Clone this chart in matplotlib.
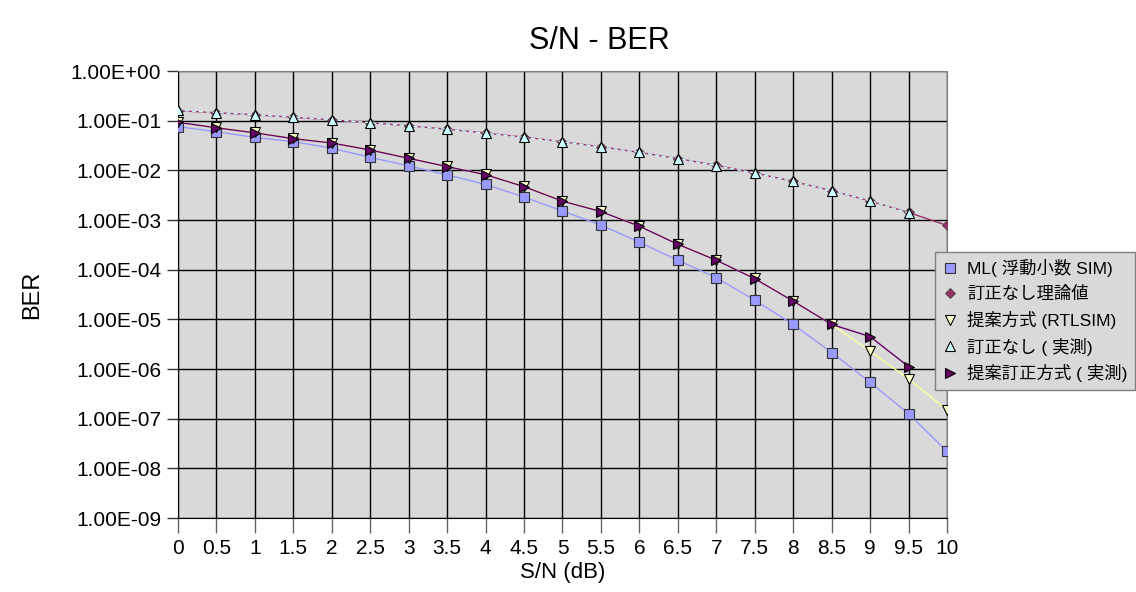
import matplotlib
matplotlib.use("Agg")
import matplotlib.pyplot as plt
from matplotlib.ticker import FixedLocator, NullLocator

plt.rcParams['font.family'] = ['Liberation Sans', 'Noto Sans CJK JP', 'DejaVu Sans']

# S/N (dB)
snr = [0, 0.5, 1, 1.5, 2, 2.5, 3, 3.5, 4, 4.5, 5, 5.5, 6, 6.5, 7, 7.5, 8, 8.5, 9, 9.5, 10]

ber_ml = [7.6e-2, 6.0e-2, 4.6e-2, 3.8e-2, 2.8e-2, 1.83e-2, 1.23e-2, 8.1e-3, 5.2e-3, 2.9e-3,
          1.52e-3, 7.9e-4, 3.57e-4, 1.55e-4, 6.9e-5, 2.44e-5, 7.9e-6, 2.15e-6, 5.4e-7, 1.26e-7, 2.2e-8]
ber_theory = [1.587e-1, 1.448e-1, 1.309e-1, 1.172e-1, 1.040e-1, 9.11e-2, 7.89e-2, 6.73e-2, 5.65e-2,
              4.66e-2, 3.77e-2, 2.98e-2, 2.30e-2, 1.73e-2, 1.26e-2, 8.86e-3, 6.00e-3, 3.90e-3,
              2.42e-3, 1.42e-3, 7.8e-4]
ber_rtl = [9.4e-2, 7.3e-2, 5.8e-2, 4.4e-2, 3.6e-2, 2.6e-2, 1.77e-2, 1.2e-2, 8.3e-3, 4.8e-3,
           2.45e-3, 1.5e-3, 7.6e-4, 3.3e-4, 1.57e-4, 6.7e-5, 2.35e-5, 7.9e-6, 2.3e-6, 6.3e-7, 1.5e-7]
ber_uncoded = [1.62e-1, 1.46e-1, 1.31e-1, 1.18e-1, 1.05e-1, 9.1e-2, 7.9e-2, 6.7e-2, 5.6e-2, 4.6e-2,
               3.75e-2, 2.97e-2, 2.3e-2, 1.72e-2, 1.25e-2, 8.8e-3, 6.0e-3, 3.9e-3, 2.45e-3, 1.39e-3]
ber_prop = [9.3e-2, 7.2e-2, 5.7e-2, 4.35e-2, 3.56e-2, 2.57e-2, 1.75e-2, 1.19e-2, 8.2e-3, 4.7e-3,
            2.4e-3, 1.48e-3, 7.5e-4, 3.25e-4, 1.55e-4, 6.6e-5, 2.33e-5, 7.9e-6, 4.5e-6, 1.12e-6]

labels = ["ML( 浮動小数 SIM)", "訂正なし理論値", "提案方式 (RTLSIM)", "訂正なし ( 実測)", "提案訂正方式 ( 実測)"]
ytick_vals = [1e0, 1e-1, 1e-2, 1e-3, 1e-4, 1e-5, 1e-6, 1e-7, 1e-8, 1e-9]
ytick_labels = ["1.00E+00", "1.00E-01", "1.00E-02", "1.00E-03", "1.00E-04",
                "1.00E-05", "1.00E-06", "1.00E-07", "1.00E-08", "1.00E-09"]
xtick_labels = ["0", "0.5", "1", "1.5", "2", "2.5", "3", "3.5", "4", "4.5", "5",
                "5.5", "6", "6.5", "7", "7.5", "8", "8.5", "9", "9.5", "10"]

fig = plt.figure(figsize=(11.36, 5.92), dpi=100)
ax = fig.add_axes([0.1567, 0.125, 0.6769, 0.755])
ax.set_facecolor('#D9D9D9')

ms = 6.5
ax.plot(snr, ber_ml, color='#9999FF', lw=1, marker='s', ms=ms, mfc='#9999FF', mec='#333333', mew=0.8,
        label=labels[0], zorder=3)
ax.plot(snr, ber_theory, color='#993366', lw=1, marker='D', ms=5, mfc='#993366', mec='#444444', mew=0.6,
        label=labels[1], zorder=3)
ax.plot(snr, ber_rtl, color='#FFFF99', lw=1, marker='v', ms=ms + 0.5, mfc='#FFFFCC', mec='#000000', mew=0.8,
        label=labels[2], zorder=3)
ax.plot(snr[:len(ber_uncoded)], ber_uncoded, color='#CCFFFF', lw=1, ls=(0, (3, 2)), marker='^', ms=ms + 0.5,
        mfc='#CCFFFF', mec='#000000', mew=0.8, label=labels[3], zorder=3)
ax.plot(snr[:len(ber_prop)], ber_prop, color='#660066', lw=1, marker='>', ms=ms + 0.5, mfc='#660066',
        mec='#000000', mew=0.8, label=labels[4], zorder=3)

ax.set_yscale('log')
ax.set_ylim(1e-9, 1e0)
ax.set_xlim(0, 10)
ax.yaxis.set_major_locator(FixedLocator(ytick_vals))
ax.yaxis.set_minor_locator(NullLocator())
ax.set_yticklabels(ytick_labels)
ax.set_xticks(snr)
ax.set_xticklabels(xtick_labels)
ax.tick_params(axis='y', labelsize=15, length=8, width=1, color='#333333', pad=4)
ax.tick_params(axis='x', labelsize=15, length=11, width=1, color='#666666', pad=4)
ax.grid(True, color='black', lw=1, zorder=1)
ax.set_axisbelow(True)
for s in ax.spines.values():
    s.set_color('#808080')
ax.spines['left'].set_color('black')
ax.spines['bottom'].set_color('black')

ax.set_xlabel("S/N (dB)", fontsize=16, labelpad=3)
ax.set_ylabel("BER", fontsize=17, labelpad=20)
fig.text(0.528, 0.93, "S/N - BER", ha='center', va='center', fontsize=22)

leg = fig.legend(loc='upper left', bbox_to_anchor=(0.823, 0.575), fontsize=12.5, frameon=True,
                 fancybox=False, edgecolor='#808080', facecolor='#D9D9D9', framealpha=1,
                 handlelength=0.8, handletextpad=0.6, borderpad=0.45, labelspacing=0.5,
                 borderaxespad=0)
leg.get_frame().set_linewidth(1)
for h in leg.legend_handles:
    h.set_linestyle('none')

fig.savefig("out.png", dpi=100)
